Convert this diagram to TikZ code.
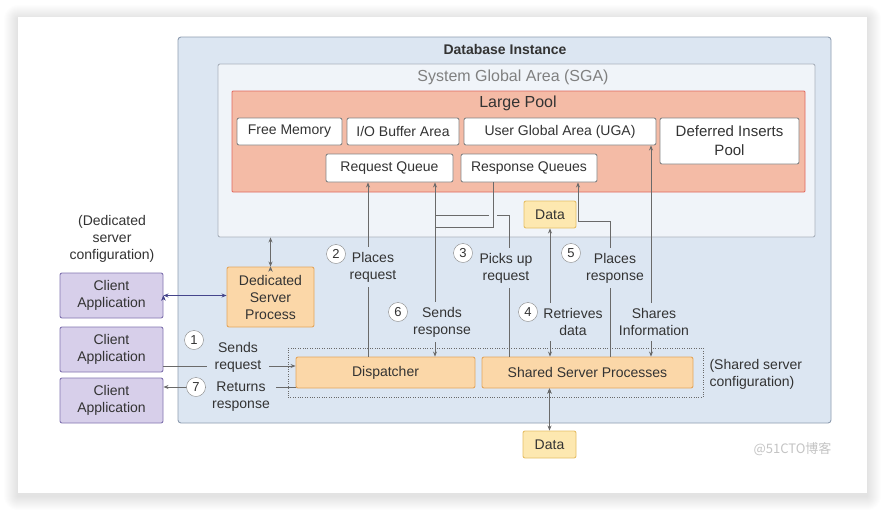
\documentclass[tikz,border=0pt]{standalone}
\usepackage{fontspec}
\setmainfont{Liberation Sans}
\newfontfamily\cjk{Noto Sans CJK SC}
\usetikzlibrary{positioning, arrows.meta}

\definecolor{dbfill}{HTML}{DCE6F2}
\definecolor{dbline}{HTML}{8E9DB0}
\definecolor{sgafill}{HTML}{F0F4F9}
\definecolor{sgaline}{HTML}{AAB2BD}
\definecolor{lpfill}{HTML}{F4BBA6}
\definecolor{lpline}{HTML}{E0675E}
\definecolor{memline}{HTML}{858585}
\definecolor{procfill}{HTML}{FBD7A8}
\definecolor{procline}{HTML}{E3A65E}
\definecolor{datafill}{HTML}{FDE8B0}
\definecolor{dataline}{HTML}{E6BF66}
\definecolor{clifill}{HTML}{D7CFEA}
\definecolor{cliline}{HTML}{8275B0}
\definecolor{arrline}{HTML}{6A6A6A}
\definecolor{blueline}{HTML}{45458C}
\definecolor{txt}{HTML}{333333}
\definecolor{wm}{HTML}{C4C4C4}

\begin{document}
\begin{tikzpicture}[x=1pt, y=-1pt, node distance=54pt, on grid,
    >={Stealth[length=5pt,width=4pt]},
    box/.style={draw, line width=0.9pt, rounded corners=2pt, inner sep=0pt, align=center, text=txt,
                font=\fontsize{14}{17}\selectfont},
    mem/.style={box, draw=memline, fill=white, minimum height=27pt},
    proc/.style={box, draw=procline, fill=procfill, minimum height=31pt},
    client/.style={box, draw=cliline, fill=clifill, minimum width=103pt, minimum height=45pt},
    datab/.style={box, draw=dataline, fill=datafill, minimum width=53pt, minimum height=27pt},
    num/.style={circle, draw=memline, fill=white, minimum size=19pt, inner sep=0pt, text=txt,
                font=\fontsize{13}{13}\selectfont},
    lbl/.style={fill=dbfill, align=center, inner xsep=3pt, inner ysep=5pt, text=txt,
                font=\fontsize{14}{17}\selectfont},
    wire/.style={draw=arrline, line width=0.8pt}]
\useasboundingbox (0,0) rectangle (886,512);

% card with soft shadow
\foreach \s in {1,...,14}
  \fill[black, opacity=0.009, rounded corners=\s pt] (18-\s,19-\s) rectangle (867+\s,496+\s);
\fill[white] (18,17) rectangle (867,493);

% containers
\node[draw=dbline, line width=0.9pt, fill=dbfill, rounded corners=3pt, minimum width=653pt, minimum height=386pt, inner sep=0pt] (db) at (504.5,230) {};
\node[font=\bfseries\fontsize{14}{17}\selectfont, text=txt] (dbt) at (505,49) {Database Instance};
\node[draw=sgaline, line width=0.9pt, fill=sgafill, rounded corners=2pt, minimum width=597pt, minimum height=173pt, inner sep=0pt] (sga) at (516.5,150.5) {};
\node[font=\fontsize{16}{19}\selectfont, text=gray] (sgat) at (513,77) {System Global Area (SGA)};
\node[draw=lpline, line width=0.9pt, fill=lpfill, rounded corners=1pt, minimum width=573pt, minimum height=101pt, inner sep=0pt] (lp) at (518.5,141.5) {};
\node[font=\fontsize{16}{19}\selectfont, text=txt] (lpt) at (518,103) {Large Pool};

% memory areas
\node[mem, minimum width=105pt] (free) at (289.5,131.5) {Free Memory};
\node[mem, minimum width=112pt] (io) at (403,131.5) {I/O Buffer Area};
\node[mem, minimum width=192pt] (uga) at (560,131.5) {User Global Area (UGA)};
\node[mem, minimum width=139pt, minimum height=46pt, font=\fontsize{15}{19}\selectfont] (dip) at (729.5,141) {Deferred Inserts\\Pool};
\node[mem, minimum width=127pt, minimum height=28pt] (req) at (389.5,168) {Request Queue};
\node[mem, minimum width=136pt, minimum height=28pt] (resp) at (529,168) {Response Queues};
\node[datab, minimum width=52pt] (data1) at (550,214.5) {Data};

% processes
\node[proc, minimum width=87pt, minimum height=60pt] (ded) at (270.5,297) {Dedicated\\Server\\Process};
\node[draw=arrline, dotted, minimum width=415pt, minimum height=49pt, inner sep=0pt] (shared) at (495.5,372.5) {};
\node[proc, minimum width=179pt] (disp) at (385.5,372.5) {Dispatcher};
\node[proc, minimum width=211pt] (ssp) at (587.5,372.5) {Shared Server Processes};
\node[datab] (data2) at (549.5,444.5) {Data};

% clients
\node[client] (c1) at (111.5,295.5) {Client\\Application};
\node[client, below=54pt of c1] (c2) {Client\\Application};
\node[client, below=51pt of c2] (c3) {Client\\Application};
\node[text=txt, align=center, font=\fontsize{14}{17}\selectfont] (dedt) at (112,239) {(Dedicated\\server\\configuration)};
\node[text=txt, align=left, anchor=west, font=\fontsize{14}{17}\selectfont] (sht) at (706,374) {(Shared server\\configuration)};

% turning points of the connectors
\coordinate (yreq) at (0,366);
\coordinate (yret) at (0,387);
\coordinate (t2) at (368,0);
\coordinate (t3a) at (509,215);
\coordinate (t3b) at (435,215);
\coordinate (t5a) at (610,221);
\coordinate (t5b) at (578,221);
\coordinate (t6a) at (493,227);
\coordinate (t6b) at (435,227);
\coordinate (t7) at (651,0);

% connectors
\path[wire, <->, draw=blueline] (c1.east) edge (c1.east -| ded.west);
\path[wire, <->] (ded.north) edge (ded.north |- sga.south);
\draw[wire, ->] (c2.east |- yreq) -- (disp.west |- yreq);
\draw[wire, ->] (disp.west |- yret) -- (c3.east |- yret);
\draw[wire, ->] (disp.north -| t2) -- (req.south -| t2);
\draw[wire, ->] (ssp.north -| t3a) -- (t3a) -- (t3b) (t6b) -- (req.south -| t3b);
\fill[sgafill] (489,212) rectangle (497,218);
\draw[wire, ->] (resp.south -| t6a) -- (t6a) -- (t6b) -- (disp.north -| t6b);
\draw[wire, ->] (ssp.north -| t5a) -- (t5a) -- (t5b) -- (resp.south -| t5b);
\path[wire, <->] (data1.south) edge (ssp.north -| data1.south)
    (ssp.north -| t7) edge (uga.south -| t7)
    (ssp.south -| data2.north) edge (data2.north);

% labels on the connectors
\node[lbl, inner xsep=8pt] (l1) at (238,357) {Sends\\request};
\node[lbl, inner xsep=6pt] (l7) at (241,397) {Returns\\response};
\node[lbl] (l2) at (373,267) {Places\\request};
\node[lbl] (l3) at (506,268) {Picks up\\request};
\node[lbl] (l5) at (615,268) {Places\\response};
\node[lbl] (l6) at (442,322) {Sends\\response};
\node[lbl] (l4) at (573,322) {Retrieves\\data};
\node[lbl] (lsh) at (654,322) {Shares\\Information};
\node[num] (n1) at (194,340) {1};
\node[num] (n2) at (336,254) {2};
\node[num] (n3) at (463,253) {3};
\node[num] (n4) at (528,312) {4};
\node[num] (n5) at (571,253) {5};
\node[num] (n6) at (398,312) {6};
\node[num] (n7) at (196,387) {7};

\node[text=wm, anchor=west, font=\cjk\fontsize{13}{13}\selectfont] (wmark) at (750,449) {@51CTO博客};
\end{tikzpicture}
\end{document}
